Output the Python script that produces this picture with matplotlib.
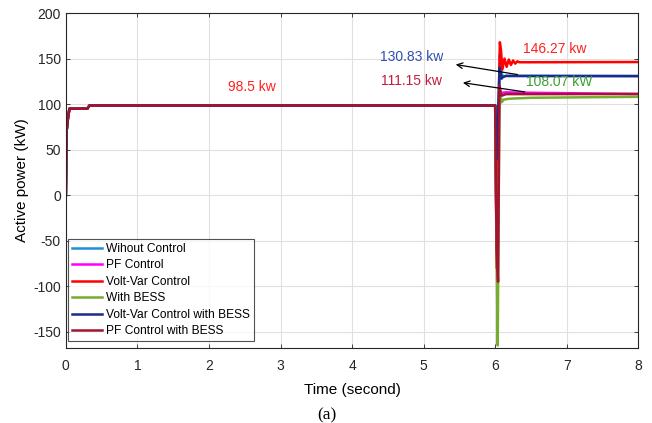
import numpy as np
import matplotlib
matplotlib.use("Agg")
import matplotlib.pyplot as plt

plt.rcParams['font.family'] = ['Liberation Sans', 'DejaVu Sans']
plt.rcParams['axes.unicode_minus'] = False

# shared start-up segment (before the event at t = 6 s)
t_pre = [0.0, 0.01, 0.03, 0.05, 0.3, 0.33, 6.0]
p_pre = [0.0, 70.0, 85.0, 95.0, 95.0, 98.5, 98.5]

# post-event segments, one per case
names = ["Wihout Control", "PF Control", "Volt-Var Control", "With BESS",
         "Volt-Var Control with BESS", "PF Control with BESS"]
colors = ["#1f8fd8", "#ff00ff", "#ff0000", "#77ac30", "#1c2a8c", "#a2142f"]

t_post = {
    "Wihout Control": [6.02, 6.04, 6.065, 6.09, 6.11, 6.15, 8.0],
    "PF Control": [6.02, 6.04, 6.06, 6.08, 6.1, 6.15, 6.5, 8.0],
    "Volt-Var Control": [6.02, 6.04, 6.065, 6.08, 6.1, 6.13, 6.16, 6.19, 6.22, 6.25, 6.28, 6.31, 6.34, 8.0],
    "With BESS": [6.02, 6.035, 6.06, 6.09, 6.12, 6.2, 6.5, 8.0],
    "Volt-Var Control with BESS": [6.03, 6.045, 6.06, 6.09, 6.11, 6.15, 8.0],
    "PF Control with BESS": [6.02, 6.04, 6.06, 6.08, 6.1, 6.15, 8.0],
}
p_post = {
    "Wihout Control": [-60.0, 40.0, 154.0, 134.0, 130.0, 131.0, 130.83],
    "PF Control": [-60.0, 40.0, 118.0, 113.0, 112.5, 113.0, 112.5, 111.15],
    "Volt-Var Control": [-80.0, 60.0, 168.0, 160.0, 138.0, 150.0, 141.0, 149.0, 143.0, 148.0, 144.5, 147.0, 146.0, 146.27],
    "With BESS": [-60.0, -165.0, 120.0, 102.0, 105.0, 106.0, 107.0, 108.07],
    "Volt-Var Control with BESS": [40.0, 100.0, 140.0, 128.0, 130.0, 131.0, 130.83],
    "PF Control with BESS": [-60.0, -95.0, 120.0, 110.0, 109.5, 111.0, 111.15],
}

fig = plt.figure(figsize=(6.52, 4.23), dpi=100)
ax = fig.add_axes([0.101, 0.177, 0.878, 0.792])

for name, c in zip(names, colors):
    t = t_pre + t_post[name]
    p = p_pre + p_post[name]
    ax.plot(t, p, color=c, lw=1.8, label=name)

ax.set_xlim(0, 8)
ax.set_ylim(-168, 200)
ax.set_xticks(range(0, 9))
ax.set_yticks([-150, -100, -50, 0, 50, 100, 150, 200])
ax.grid(True, color="#e0e0e0", lw=0.8)
ax.tick_params(direction="in", top=True, right=True, labelsize=10, length=3, width=0.6, colors="#262626")
ax.tick_params(axis="x", pad=8)
for s in ax.spines.values():
    s.set_color("#262626")
    s.set_linewidth(0.8)

ax.set_xlabel("Time (second)", fontsize=11, labelpad=7)
ax.set_ylabel("Active power (kW)", fontsize=11, labelpad=3)

ax.text(2.6, 119, "98.5 kw", color="#ff2020", fontsize=10, ha="center", va="center")
ax.text(4.83, 152, "130.83 kw", color="#3050b0", fontsize=10, ha="center", va="center")
ax.text(4.83, 125, "111.15 kw", color="#c02040", fontsize=10, ha="center", va="center")
ax.text(6.83, 161, "146.27 kw", color="#ff2020", fontsize=10, ha="center", va="center")
ax.text(6.9, 124, "108.07 kW", color="#3aa030", fontsize=10, ha="center", va="center")
ax.annotate("", xy=(5.41, 144), xytext=(6.35, 132),
            arrowprops=dict(arrowstyle="->", color="black", lw=0.9))
ax.annotate("", xy=(5.51, 124), xytext=(6.45, 113),
            arrowprops=dict(arrowstyle="->", color="black", lw=0.9))

leg = ax.legend(loc="lower left", bbox_to_anchor=(0.004, 0.02), fontsize=8.65, fancybox=False,
                edgecolor="#262626", borderaxespad=0, handlelength=2.5, labelspacing=0.37,
                borderpad=0.35, handletextpad=0.33)
leg.get_frame().set_linewidth(0.8)

fig.text(0.502, 0.017, "(a)", fontsize=12.5, family="Liberation Serif", ha="center", va="center")

fig.savefig("out.png", dpi=100)
